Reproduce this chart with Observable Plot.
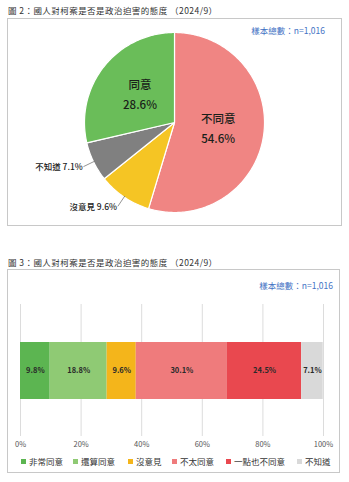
<!DOCTYPE html>
<html>
<head>
<meta charset="utf-8">
<script src="https://cdn.jsdelivr.net/npm/d3@7"></script>
<script src="https://cdn.jsdelivr.net/npm/@observablehq/plot@0.6"></script>
<style>
  html, body { margin: 0; padding: 0; background: #fff; }
  body { width: 349px; height: 482px; position: relative; overflow: hidden;
         font-family: "Noto Sans CJK TC", "Noto Sans", sans-serif; }
  .title { position: absolute; left: 8px; font-size: 8.5px; color: #333; white-space: nowrap;
           font-family: "Noto Sans CJK TC", serif; letter-spacing: 0.45px; }
  .box { position: absolute; border: 1px solid #c8c8c8; box-sizing: border-box; background: #fff; }
  .n { position: absolute; font-size: 8.5px; color: #4472c4; white-space: nowrap; }
  .legend { position: absolute; left: 8px; top: 455px; width: 332px; font-size: 8.5px; color: #333; }
  .legend span.item { position: absolute; white-space: nowrap; line-height: 12px; }
  .legend i { display: inline-block; width: 5px; height: 5px; margin-right: 3px; vertical-align: 1px; }
  svg { position: absolute; }
</style>
</head>
<body>
<div class="title" style="top:4px">圖 2：國人對柯案是否是政治迫害的態度 （2024/9）</div>
<div class="box" id="box1" style="left:7px; top:18px; width:335px; height:208px;"></div>
<div class="n" id="n1" style="right:24px; top:24px;"></div>

<div class="title" style="top:256px">圖 3：國人對柯案是否是政治迫害的態度 （2024/9）</div>
<div class="box" id="box2" style="left:7px; top:269px; width:333px; height:204px;"></div>
<div class="n" id="n2" style="right:16px; top:279px;"></div>
<div class="legend" id="legend"></div>

<script>
// ---- Data: figure 2 (pie) ----
const pieCategories = ["不同意", "沒意見", "不知道", "同意"];
const pieValues = [54.6, 9.6, 7.1, 28.6];
const pieColors = ["#f08583", "#f5c524", "#808080", "#6abd59"];
const pieLabelInside = [true, false, false, true];

// ---- Data: figure 3 (stacked bar) ----
const barCategories = ["非常同意", "還算同意", "沒意見", "不太同意", "一點也不同意", "不知道"];
const barValues = [9.8, 18.8, 9.6, 30.1, 24.5, 7.1];
const barColors = ["#5cb551", "#8fca74", "#f4b51b", "#ef7b7c", "#e9484f", "#d9d9d9"];
const xTicks = [0, 20, 40, 60, 80, 100];
const sampleText = "樣本總數：n=1,016";

const FONT = '"Noto Sans CJK TC", "Noto Sans", sans-serif';
document.getElementById("n1").textContent = sampleText;
document.getElementById("n2").textContent = sampleText;

// ---------- PIE ----------
{
  const W = 333, H = 206, R = 90, cx = 166, cy = 103;
  const total = d3.sum(pieValues);
  const slices = [];
  let acc = 0;
  pieValues.forEach((v, i) => {
    const a0 = acc / total * 2 * Math.PI;
    acc += v;
    const a1 = acc / total * 2 * Math.PI;
    slices.push({name: pieCategories[i], value: v, color: pieColors[i], a0, a1, mid: (a0 + a1) / 2, inside: pieLabelInside[i]});
  });
  const wedgePts = [];
  for (const s of slices) {
    wedgePts.push({name: s.name, color: s.color, x: 0, y: 0});
    const n = Math.max(2, Math.ceil((s.a1 - s.a0) / (Math.PI / 180)));
    for (let k = 0; k <= n; k++) {
      const a = s.a0 + (s.a1 - s.a0) * k / n;
      wedgePts.push({name: s.name, color: s.color, x: Math.sin(a), y: Math.cos(a)});
    }
    wedgePts.push({name: s.name, color: s.color, x: 0, y: 0});
  }
  const inner = slices.filter(s => s.inside);
  const outer = slices.filter(s => !s.inside);
  const leaders = [];
  outer.forEach(s => {
    leaders.push({name: s.name, x: Math.sin(s.mid) * 0.99, y: Math.cos(s.mid) * 0.99});
    leaders.push({name: s.name, x: Math.sin(s.mid) * 1.12, y: Math.cos(s.mid) * 1.12});
  });
  const rIn = 0.49;
  const svg = Plot.plot({
    width: W, height: H,
    margin: 0,
    x: {domain: [-cx / R, (W - cx) / R], axis: null},
    y: {domain: [-(H - cy) / R, cy / R], axis: null},
    style: {fontFamily: FONT, background: "transparent"},
    marks: [
      Plot.line(wedgePts, {x: "x", y: "y", z: "name", fill: "color", stroke: "#ffffff", strokeWidth: 1.2, curve: "linear"}),
      Plot.text(inner, {x: d => Math.sin(d.mid) * rIn, y: d => Math.cos(d.mid) * rIn, text: d => d.name, dy: -10, fontSize: 11.5, fontWeight: 500, fill: "#1a1f1a"}),
      Plot.text(inner, {x: d => Math.sin(d.mid) * rIn, y: d => Math.cos(d.mid) * rIn, text: d => d.value.toFixed(1) + "%", dy: 10, fontSize: 11.5, fontWeight: 500, fill: "#1a1f1a"}),
      Plot.line(leaders, {x: "x", y: "y", z: "name", stroke: "#666", strokeWidth: 0.7}),
      Plot.text(outer, {x: d => Math.sin(d.mid) * 1.12, y: d => Math.cos(d.mid) * 1.12, text: d => d.name + " " + d.value.toFixed(1) + "%", textAnchor: "end", dx: -1, dy: 1, fontSize: 8.5, fontWeight: 500, fill: "#222"})
    ]
  });
  svg.style.left = "8px"; svg.style.top = "19px";
  document.body.appendChild(svg);
}

// ---------- STACKED BAR ----------
{
  const rows = barCategories.map((c, i) => ({cat: c, value: barValues[i], color: barColors[i], g: "all"}));
  const svg = Plot.plot({
    width: 332, height: 184,
    marginLeft: 12, marginRight: 17, marginTop: 34, marginBottom: 18,
    x: {domain: [0, 100], ticks: xTicks, tickFormat: d => d + "%", tickSize: 0, tickPadding: 5, label: null},
    y: {domain: ["all"], axis: null, padding: 0.395},
    style: {fontFamily: FONT, fontSize: "7.5px", color: "#555", background: "transparent"},
    marks: [
      Plot.ruleX(xTicks, {stroke: "#dcdcdc", strokeWidth: 1}),
      Plot.barX(rows, Plot.stackX({x: "value", y: "g", fill: "color", order: null})),
      Plot.text(rows, Plot.stackX({x: "value", y: "g", text: d => d.value.toFixed(1) + "%", order: null, fontSize: 7.5, fontWeight: "bold", fill: "#2a2a2a"}))
    ]
  });
  svg.style.left = "8px"; svg.style.top = "270px";
  document.body.appendChild(svg);

  // legend
  const lg = document.getElementById("legend");
  const lefts = [21, 73, 128, 172, 226, 297];
  barCategories.forEach((c, i) => {
    const s = document.createElement("span");
    s.className = "item";
    s.style.left = (lefts[i] - 8) + "px";
    s.innerHTML = `<i style="background:${barColors[i]}"></i>${c}`;
    lg.appendChild(s);
  });
}
</script>
</body>
</html>
